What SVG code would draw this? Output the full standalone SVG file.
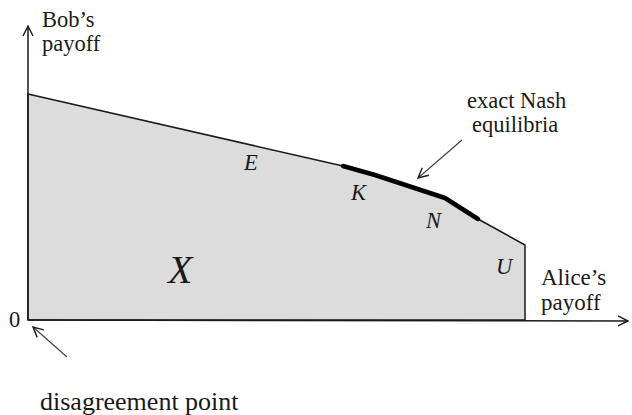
<svg xmlns="http://www.w3.org/2000/svg" width="632" height="415" viewBox="0 0 632 415">
<style>
text{font-family:"Liberation Serif","Times New Roman",serif;fill:#1a1a1a;font-size:22.5px}
.it{font-style:italic}
.ax{stroke:#1a1a1a;stroke-width:1.5;fill:none}
.ptr{stroke:#444;stroke-width:1.2;fill:none}
</style>
<defs>
<marker id="open" viewBox="0 0 12 12" refX="11" refY="6" markerWidth="12" markerHeight="12" markerUnits="userSpaceOnUse" orient="auto">
<path d="M1,1 L11,6 L1,11" fill="none" stroke="#1a1a1a" stroke-width="1.4"/>
</marker>
</defs>
<g id="region">
<path d="M28,94 L343,166 L375,175 L445,198 L478,219 L525,245 L525,320 L28,320 Z" fill="#dcdcdc" stroke="#1a1a1a" stroke-width="1.5"/>
<path d="M343,166 L375,175 L445,198 L478,219" fill="none" stroke="#000" stroke-width="4.5" stroke-linecap="round" stroke-linejoin="round"/>
</g>
<g id="axes">
<path class="ax" d="M28,320 L28,26" marker-end="url(#open)"/>
<path class="ax" d="M28,320 L628,321" marker-end="url(#open)"/>
</g>
<g id="connectors">
<path class="ptr" d="M462,140 L418,178" marker-end="url(#open)"/>
<path class="ptr" d="M67,357 L33,327" marker-end="url(#open)"/>
</g>
<g id="labels">
<text x="42" y="27">Bob’s</text>
<text x="42" y="51">payoff</text>
<text x="467" y="108">exact Nash</text>
<text x="472" y="132">equilibria</text>
<text class="it" x="244" y="170">E</text>
<text class="it" x="351" y="200">K</text>
<text class="it" x="426" y="228">N</text>
<text class="it" x="496" y="274">U</text>
<text class="it" x="168" y="283" style="font-size:40px">X</text>
<text x="541" y="285" style="font-size:23px">Alice’s</text>
<text x="541" y="310" style="font-size:23px">payoff</text>
<text x="9" y="327">0</text>
<text x="40" y="410" style="font-size:26px">disagreement point</text>
</g>
</svg>
